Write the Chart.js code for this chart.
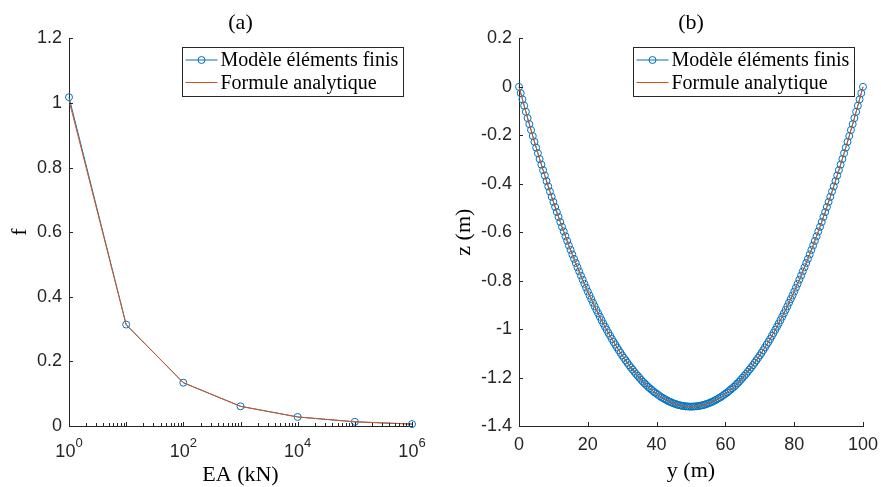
<!DOCTYPE html>
<html>
<head>
<meta charset="utf-8">
<script src="https://cdn.jsdelivr.net/npm/chart.js@4.4.0/dist/chart.umd.min.js"></script>
<style>
  body { margin: 0; background: #fff; overflow: hidden; }
  #wrap { position: relative; width: 881px; height: 487px; }
  canvas { position: absolute; top: 0; }
</style>
</head>
<body>
<div id="wrap">
  <canvas id="chartA" width="440" height="487" style="left:0px"></canvas>
  <canvas id="chartB" width="441" height="487" style="left:440px"></canvas>
</div>
<script>
const legendLabels = ["Modèle éléments finis", "Formule analytique"];

// (a) f against EA
const eaValues = [1, 10, 100, 1000, 10000, 100000, 1000000];
const fFem = [1.018, 0.314, 0.134, 0.061, 0.028, 0.013, 0.006];
const fAnalytic = [1.008, 0.313, 0.134, 0.061, 0.028, 0.013, 0.006];
const eaTickExps = [0, 2, 4, 6];

// (b) cable shape, y (m) and z (m)
const yPos = [
  0, 0.5, 1, 1.5, 2, 2.5, 3, 3.5, 4, 4.5, 5, 5.5, 6, 6.5, 7, 7.5, 8, 8.5, 9, 9.5,
  10, 10.5, 11, 11.5, 12, 12.5, 13, 13.5, 14, 14.5, 15, 15.5, 16, 16.5, 17, 17.5, 18, 18.5, 19, 19.5,
  20, 20.5, 21, 21.5, 22, 22.5, 23, 23.5, 24, 24.5, 25, 25.5, 26, 26.5, 27, 27.5, 28, 28.5, 29, 29.5,
  30, 30.5, 31, 31.5, 32, 32.5, 33, 33.5, 34, 34.5, 35, 35.5, 36, 36.5, 37, 37.5, 38, 38.5, 39, 39.5,
  40, 40.5, 41, 41.5, 42, 42.5, 43, 43.5, 44, 44.5, 45, 45.5, 46, 46.5, 47, 47.5, 48, 48.5, 49, 49.5,
  50, 50.5, 51, 51.5, 52, 52.5, 53, 53.5, 54, 54.5, 55, 55.5, 56, 56.5, 57, 57.5, 58, 58.5, 59, 59.5,
  60, 60.5, 61, 61.5, 62, 62.5, 63, 63.5, 64, 64.5, 65, 65.5, 66, 66.5, 67, 67.5, 68, 68.5, 69, 69.5,
  70, 70.5, 71, 71.5, 72, 72.5, 73, 73.5, 74, 74.5, 75, 75.5, 76, 76.5, 77, 77.5, 78, 78.5, 79, 79.5,
  80, 80.5, 81, 81.5, 82, 82.5, 83, 83.5, 84, 84.5, 85, 85.5, 86, 86.5, 87, 87.5, 88, 88.5, 89, 89.5,
  90, 90.5, 91, 91.5, 92, 92.5, 93, 93.5, 94, 94.5, 95, 95.5, 96, 96.5, 97, 97.5, 98, 98.5, 99, 99.5,
  100
];
const zFem = [
  0, -0.026, -0.052, -0.078, -0.103, -0.129, -0.154, -0.178, -0.203, -0.227,
  -0.251, -0.274, -0.298, -0.321, -0.344, -0.366, -0.389, -0.411, -0.432, -0.454,
  -0.475, -0.496, -0.517, -0.537, -0.558, -0.578, -0.597, -0.617, -0.636, -0.655,
  -0.673, -0.692, -0.710, -0.727, -0.745, -0.762, -0.779, -0.796, -0.813, -0.829,
  -0.845, -0.861, -0.876, -0.891, -0.906, -0.921, -0.935, -0.949, -0.963, -0.977,
  -0.990, -1.003, -1.016, -1.028, -1.041, -1.053, -1.064, -1.076, -1.087, -1.098,
  -1.109, -1.119, -1.129, -1.139, -1.149, -1.158, -1.167, -1.176, -1.185, -1.193,
  -1.201, -1.209, -1.217, -1.224, -1.231, -1.238, -1.244, -1.250, -1.256, -1.262,
  -1.267, -1.272, -1.277, -1.282, -1.286, -1.290, -1.294, -1.298, -1.301, -1.304,
  -1.307, -1.309, -1.312, -1.314, -1.315, -1.317, -1.318, -1.319, -1.319, -1.320,
  -1.320,
  -1.320, -1.319, -1.319, -1.318, -1.317, -1.315, -1.314, -1.312, -1.309, -1.307,
  -1.304, -1.301, -1.298, -1.294, -1.290, -1.286, -1.282, -1.277, -1.272, -1.267,
  -1.262, -1.256, -1.250, -1.244, -1.238, -1.231, -1.224, -1.217, -1.209, -1.201,
  -1.193, -1.185, -1.176, -1.167, -1.158, -1.149, -1.139, -1.129, -1.119, -1.109,
  -1.098, -1.087, -1.076, -1.064, -1.053, -1.041, -1.028, -1.016, -1.003, -0.990,
  -0.977, -0.963, -0.949, -0.935, -0.921, -0.906, -0.891, -0.876, -0.861, -0.845,
  -0.829, -0.813, -0.796, -0.779, -0.762, -0.745, -0.727, -0.710, -0.692, -0.673,
  -0.655, -0.636, -0.617, -0.597, -0.578, -0.558, -0.537, -0.517, -0.496, -0.475,
  -0.454, -0.432, -0.411, -0.389, -0.366, -0.344, -0.321, -0.298, -0.274, -0.251,
  -0.227, -0.203, -0.178, -0.154, -0.129, -0.103, -0.078, -0.052, -0.026, 0
];
// the analytic curve lies right on the FE points
const zAnalytic = zFem;

const blue = "#0072BD";
const orange = "#D95319";
const axisColor = "#262626";
const serif = '"Liberation Serif", "Times New Roman", serif';

Chart.defaults.font.family = '"Liberation Sans", Arial, sans-serif';
Chart.defaults.color = axisColor;

// MATLAB style ticks pointing into the plot
const inwardTicks = {
  id: "inwardTicks",
  afterDraw(chart) {
    const ctx = chart.ctx;
    const sx = chart.scales.x;
    const sy = chart.scales.y;
    const area = chart.chartArea;
    ctx.save();
    ctx.strokeStyle = axisColor;
    ctx.lineWidth = 1;
    ctx.beginPath();
    sx.ticks.forEach((t) => {
      const px = Math.round(sx.getPixelForValue(t.value)) + 0.5;
      const len = t.major === false ? 3 : 4;
      ctx.moveTo(px, area.bottom);
      ctx.lineTo(px, area.bottom - len);
    });
    sy.ticks.forEach((t) => {
      const py = Math.round(sy.getPixelForValue(t.value)) + 0.5;
      ctx.moveTo(area.left, py);
      ctx.lineTo(area.left + 4, py);
    });
    ctx.stroke();
    ctx.restore();
  }
};

// 10^n labels under the log axis
const powerLabels = {
  id: "powerLabels",
  afterDraw(chart) {
    const sx = chart.scales.x;
    const ctx = chart.ctx;
    const big = '18px "Liberation Sans", Arial, sans-serif';
    const small = '13px "Liberation Sans", Arial, sans-serif';
    ctx.save();
    ctx.fillStyle = axisColor;
    ctx.textBaseline = "alphabetic";
    ctx.textAlign = "left";
    eaTickExps.forEach((e) => {
      const px = sx.getPixelForValue(Math.pow(10, e));
      ctx.font = big;
      const wb = ctx.measureText("10").width;
      ctx.font = small;
      const we = ctx.measureText(String(e)).width;
      const x0 = px - (wb + we) / 2;
      ctx.font = big;
      ctx.fillText("10", x0, sx.top + 31);
      ctx.font = small;
      ctx.fillText(String(e), x0 + wb, sx.top + 21);
    });
    ctx.restore();
  }
};

// boxed legend in the top right corner
const boxLegend = {
  id: "boxLegend",
  afterDraw(chart) {
    const ctx = chart.ctx;
    const a = chart.chartArea;
    const w = 221, h = 49;
    const left = Math.round(a.right - 9 - w) + 0.5;
    const top = Math.round(a.top + 9) + 0.5;
    ctx.save();
    ctx.fillStyle = "#fff";
    ctx.fillRect(left, top, w, h);
    ctx.strokeStyle = axisColor;
    ctx.lineWidth = 1;
    ctx.strokeRect(left, top, w, h);
    const rows = [top + 12.5, top + 35];
    chart.data.datasets.forEach((ds, i) => {
      const yy = rows[i];
      ctx.strokeStyle = ds.borderColor;
      ctx.lineWidth = 1;
      ctx.beginPath();
      ctx.moveTo(left + 3, yy);
      ctx.lineTo(left + 35, yy);
      ctx.stroke();
      if (ds.pointRadius > 0) {
        ctx.beginPath();
        ctx.arc(left + 19, yy, ds.pointRadius, 0, Math.PI * 2);
        ctx.stroke();
      }
      ctx.fillStyle = "#000";
      ctx.font = "20px " + serif;
      ctx.textBaseline = "middle";
      ctx.textAlign = "left";
      ctx.fillText(legendLabels[i], left + 38, yy + 1);
    });
    ctx.restore();
  }
};

function femSet(points) {
  return {
    data: points,
    borderColor: blue,
    borderWidth: 1,
    pointRadius: 3.5,
    pointBorderWidth: 1,
    pointBorderColor: blue,
    pointBackgroundColor: "rgba(0,0,0,0)",
    tension: 0,
    clip: false,
    order: 2
  };
}

function analyticSet(points) {
  return {
    data: points,
    borderColor: orange,
    borderWidth: 1,
    pointRadius: 0,
    tension: 0,
    clip: false,
    order: 1
  };
}

// 1 instead of 1.0, like MATLAB
function plainNumber(v) {
  return String(parseFloat(Number(v).toFixed(1)));
}

function axisBase() {
  return {
    grid: { display: true, drawOnChartArea: false, drawTicks: false },
    border: { display: true, color: axisColor, width: 1 },
    ticks: { color: axisColor, font: { size: 18 } }
  };
}

function fixX(height) {
  return (scale) => {
    scale.height = height;
    scale.paddingLeft = 0;
    scale.paddingRight = 0;
  };
}

function fixY(width) {
  return (scale) => {
    scale.width = width;
    scale.paddingTop = 0;
    scale.paddingBottom = 0;
  };
}

function makeChartA() {
  const xAxis = axisBase();
  xAxis.type = "logarithmic";
  xAxis.min = 1;
  xAxis.max = 1000000;
  xAxis.ticks.callback = () => "";
  xAxis.ticks.autoSkip = false;
  xAxis.afterBuildTicks = (scale) => {
    const ticks = [];
    for (let e = 0; e <= 6; e++) {
      const base = Math.pow(10, e);
      ticks.push({ value: base, major: true });
      if (e < 6) {
        for (let m = 2; m <= 9; m++) ticks.push({ value: m * base, major: false });
      }
    }
    scale.ticks = ticks;
  };
  xAxis.afterFit = fixX(61);
  xAxis.title = {
    display: true, text: "EA (kN)", color: "#000",
    font: { family: serif, size: 22, lineHeight: 1.1 }, padding: { top: 0, bottom: 0 }
  };

  const yAxis = axisBase();
  yAxis.min = 0;
  yAxis.max = 1.2;
  yAxis.ticks.stepSize = 0.2;
  yAxis.ticks.padding = 7;
  yAxis.ticks.callback = plainNumber;
  yAxis.afterFit = fixY(69);
  yAxis.title = {
    display: true, text: "f", color: "#000",
    font: { family: serif, size: 22, lineHeight: 1.2 }, padding: { top: 7, bottom: 0 }
  };

  new Chart(document.getElementById("chartA"), {
    type: "line",
    data: {
      datasets: [
        femSet(eaValues.map((x, i) => ({ x: x, y: fFem[i] }))),
        analyticSet(eaValues.map((x, i) => ({ x: x, y: fAnalytic[i] })))
      ]
    },
    options: {
      responsive: false,
      animation: false,
      layout: { padding: { left: 0, right: 28, top: 0, bottom: 0 } },
      scales: { x: xAxis, y: yAxis },
      plugins: {
        legend: { display: false },
        tooltip: { enabled: false },
        title: {
          display: true, text: "(a)", color: "#000", fullSize: false,
          font: { family: serif, size: 22, weight: "normal", lineHeight: 1.2 },
          padding: { top: 10, bottom: 2 }
        }
      }
    },
    plugins: [inwardTicks, powerLabels, boxLegend]
  });
}

function makeChartB() {
  const xAxis = axisBase();
  xAxis.type = "linear";
  xAxis.min = 0;
  xAxis.max = 100;
  xAxis.ticks.stepSize = 20;
  xAxis.ticks.padding = 8;
  xAxis.afterFit = fixX(61);
  xAxis.title = {
    display: true, text: "y (m)", color: "#000",
    font: { family: serif, size: 22, lineHeight: 1.1 }, padding: { top: 0, bottom: 4 }
  };

  const yAxis = axisBase();
  yAxis.min = -1.4;
  yAxis.max = 0.2;
  yAxis.ticks.stepSize = 0.2;
  yAxis.ticks.padding = 7;
  yAxis.ticks.callback = plainNumber;
  yAxis.afterFit = fixY(79);
  yAxis.title = {
    display: true, text: "z (m)", color: "#000",
    font: { family: serif, size: 22, lineHeight: 1.2 }, padding: { top: 11, bottom: 0 }
  };

  new Chart(document.getElementById("chartB"), {
    type: "line",
    data: {
      datasets: [
        femSet(yPos.map((x, i) => ({ x: x, y: zFem[i] }))),
        analyticSet(yPos.map((x, i) => ({ x: x, y: zAnalytic[i] })))
      ]
    },
    options: {
      responsive: false,
      animation: false,
      layout: { padding: { left: 0, right: 18, top: 0, bottom: 0 } },
      scales: { x: xAxis, y: yAxis },
      plugins: {
        legend: { display: false },
        tooltip: { enabled: false },
        title: {
          display: true, text: "(b)", color: "#000", fullSize: false,
          font: { family: serif, size: 22, weight: "normal", lineHeight: 1.2 },
          padding: { top: 10, bottom: 2 }
        }
      }
    },
    plugins: [inwardTicks, boxLegend]
  });
}

makeChartA();
makeChartB();
</script>
</body>
</html>
